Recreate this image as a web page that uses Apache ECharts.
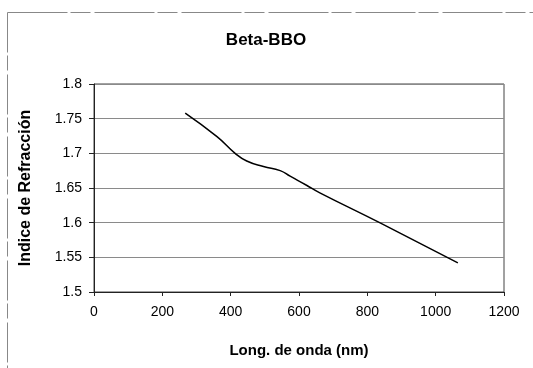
<!DOCTYPE html>
<html>
<head>
<meta charset="utf-8">
<script src="https://cdn.jsdelivr.net/npm/echarts@6/dist/echarts.min.js"></script>
<style>
  html, body { margin: 0; padding: 0; background: #fff; }
  #chart { width: 533px; height: 368px; }
</style>
</head>
<body>
<div id="chart"></div>
<script>
// Refractive index of beta-BBO vs. wavelength
const wavelengthNm = [267, 360, 413, 447, 496, 545, 574, 622, 661, 836, 1065];
const refractiveIndex = [1.758, 1.724, 1.700, 1.689, 1.681, 1.675, 1.667, 1.654, 1.643, 1.600, 1.542];
const yTicks = ['1.5', '1.55', '1.6', '1.65', '1.7', '1.75', '1.8'];

const chart = echarts.init(document.getElementById('chart'), null, { renderer: 'canvas' });
const font = 'Liberation Sans, Arial, sans-serif';

chart.setOption({
  animation: false,
  backgroundColor: '#fff',
  title: {
    text: 'Beta-BBO',
    left: 261,
    top: 27,
    textAlign: 'center',
    textStyle: { fontFamily: font, fontSize: 17, fontWeight: 'bold', color: '#000' }
  },
  grid: { left: 94, right: 29, top: 84, bottom: 76, show: true, borderColor: '#444', borderWidth: 1 },
  xAxis: {
    type: 'value',
    min: 0, max: 1200, interval: 200,
    name: 'Long. de onda (nm)',
    nameLocation: 'middle',
    nameGap: 51,
    nameTextStyle: { fontFamily: font, fontSize: 15, fontWeight: 'bold', color: '#000' },
    axisLine: { lineStyle: { color: '#222', width: 1 } },
    axisTick: { show: true, length: 4, lineStyle: { color: '#222' } },
    axisLabel: { fontFamily: font, fontSize: 14, color: '#000', margin: 13, formatter: v => String(v) },
    splitLine: { show: false }
  },
  yAxis: {
    type: 'value',
    min: 1.5, max: 1.8, interval: 0.05,
    name: 'Indice de Refracción',
    nameLocation: 'middle',
    nameGap: 60,
    nameTextStyle: { fontFamily: font, fontSize: 16, fontWeight: 'bold', color: '#000' },
    axisLine: { show: true, lineStyle: { color: '#222', width: 1 } },
    axisTick: { show: true, length: 5, lineStyle: { color: '#222' } },
    axisLabel: {
      fontFamily: font, fontSize: 14, color: '#000', margin: 12,
      formatter: v => yTicks[Math.round((v - 1.5) / 0.05)]
    },
    splitLine: { show: true, lineStyle: { color: '#8a8a8a', width: 1 } }
  },
  series: [{
    type: 'line',
    data: wavelengthNm.map((x, i) => [x, refractiveIndex[i]]),
    smooth: 0.5,
    showSymbol: false,
    lineStyle: { color: '#000', width: 1.5 }
  }],
  graphic: [
    { type: 'line', shape: { x1: 7.5, y1: 12.5, x2: 533, y2: 12.5 }, style: { stroke: '#888', lineWidth: 1, lineDash: [60, 3, 20, 4] } },
    { type: 'line', shape: { x1: 7.5, y1: 12.5, x2: 7.5, y2: 368 }, style: { stroke: '#888', lineWidth: 1, lineDash: [40, 3, 15, 4] } }
  ]
});
</script>
</body>
</html>
